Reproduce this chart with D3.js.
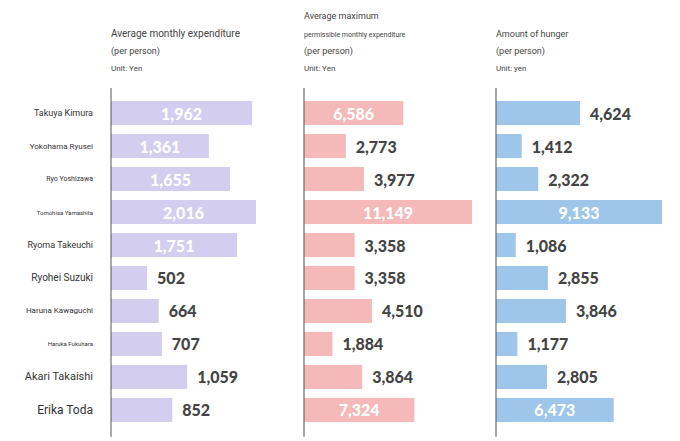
<!DOCTYPE html>
<html lang="en">
<head>
<meta charset="UTF-8">
<script src="https://d3js.org/d3.v7.min.js"></script>
<style>
  body { margin: 0; background: #fff; font-family: Roboto, "Noto Sans", sans-serif; }
  .val { font-family: Lato, "Open Sans", sans-serif; font-weight: 900; font-size: 16px; }
</style>
</head>
<body>
<svg id="chart" width="680" height="441"></svg>
<script>
const names = ["Takuya Kimura", "Yokohama Ryusei", "Ryo Yoshizawa", "Tomohisa Yamashita", "Ryoma Takeuchi",
               "Ryohei Suzuki", "Haruna Kawaguchi", "Haruka Fukuhara", "Akari Takaishi", "Erika Toda"];
const nameSizes = [9, 8, 7, 6, 9, 10, 8, 6, 11, 12];
const expenditure = [1962, 1361, 1655, 2016, 1751, 502, 664, 707, 1059, 852];
const permissible = [6586, 2773, 3977, 11149, 3358, 3358, 4510, 1884, 3864, 7324];
const hunger = [4624, 1412, 2322, 9133, 1086, 2855, 3846, 1177, 2805, 6473];

const panels = [
  { data: expenditure, x0: 111, max: 2016, w: 145, color: "#d3cdf0", inside: 1300,
    title: [["Average monthly expenditure", 10, 37], ["(per person)", 9, 54], ["Unit: Yen", 8, 71]] },
  { data: permissible, x0: 304, max: 11149, w: 168, color: "#f4b9b8", inside: 5000,
    title: [["Average maximum", 9, 19], ["permissible monthly expenditure", 7, 37], ["(per person)", 9, 54], ["Unit: Yen", 8, 71]] },
  { data: hunger, x0: 496, max: 9133, w: 166, color: "#9dc6ea", inside: 5000,
    title: [["Amount of hunger", 9, 37], ["(per person)", 9, 54], ["Unit: yen", 8, 71]] }
];

const svg = d3.select("#chart");
const y = d3.scaleBand().domain(names).range([101, 422]).paddingInner(0.27).paddingOuter(0);

svg.selectAll("text.name").data(names).enter().append("text")
  .attr("x", 93).attr("y", d => y(d) + y.bandwidth() / 2)
  .attr("text-anchor", "end").attr("dominant-baseline", "central")
  .attr("fill", "#333").style("font-size", (d, i) => nameSizes[i] + "px").text(d => d);

const fmt = d3.format(",");
panels.forEach(p => {
  const x = d3.scaleLinear().domain([0, p.max]).range([p.x0, p.x0 + p.w]);
  const g = svg.append("g");
  p.title.forEach(t => g.append("text").attr("x", p.x0).attr("y", t[2])
    .attr("fill", "#444").style("font-size", t[1] + "px").text(t[0]));
  g.selectAll("rect").data(p.data).enter().append("rect")
    .attr("x", x(0)).attr("y", (d, i) => y(names[i]))
    .attr("width", d => x(d) - x(0)).attr("height", y.bandwidth()).attr("fill", p.color);
  g.selectAll("text.val").data(p.data).enter().append("text").attr("class", "val")
    .attr("x", d => d > p.inside ? (x(0) + x(d)) / 2 : x(d) + 10)
    .attr("y", (d, i) => y(names[i]) + y.bandwidth() / 2)
    .attr("text-anchor", d => d > p.inside ? "middle" : "start")
    .attr("dominant-baseline", "central")
    .attr("fill", d => d > p.inside ? "#fff" : "#444").text(d => fmt(d));
  g.append("line").attr("x1", p.x0).attr("x2", p.x0).attr("y1", 88).attr("y2", 437)
    .attr("stroke", "#555").attr("stroke-width", 1);
});
</script>
</body>
</html>
